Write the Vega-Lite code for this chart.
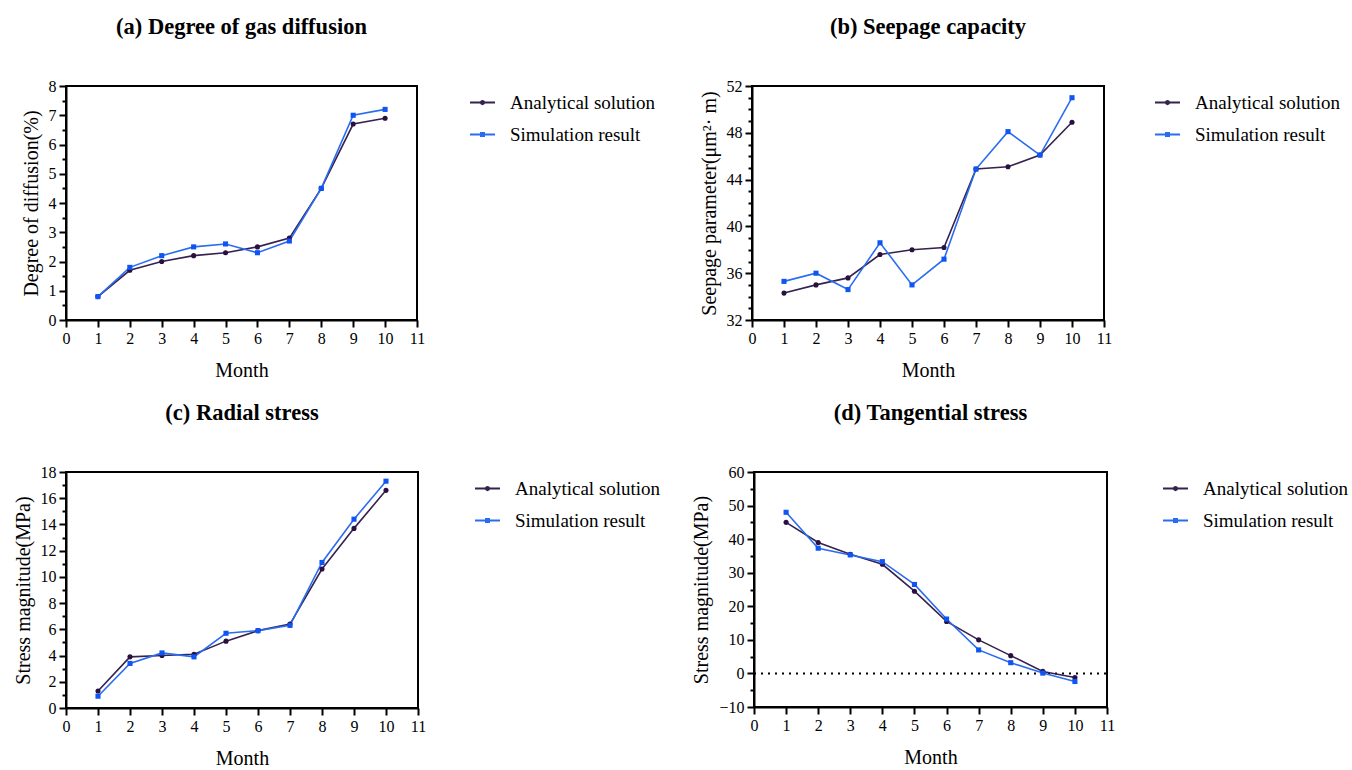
{
  "$schema": "https://vega.github.io/schema/vega-lite/v6.json",
  "padding": {"left": 12, "top": 14, "right": 5, "bottom": 5},
  "background": "white",
  "config": {
    "view": {"stroke": "black", "strokeWidth": 2},
    "font": "Liberation Serif",
    "axis": {
      "domainColor": "black", "domainWidth": 2, "tickColor": "black", "tickWidth": 2,
      "labelFont": "Liberation Serif", "labelFontSize": 16, "labelColor": "black",
      "titleFont": "Liberation Serif", "titleFontSize": 20, "titleFontWeight": "normal", "titleColor": "black",
      "grid": false, "labelOverlap": false, "labelFlush": false, "labelPadding": 3
    },
    "axisX": {"titlePadding": 14},
    "axisY": {"titlePadding": 7},
    "legend": {
      "labelFont": "Liberation Serif", "labelFontSize": 19, "labelColor": "black",
      "symbolSize": 625, "symbolStrokeWidth": 2, "rowPadding": 8, "labelOffset": 14,
      "orient": "right", "padding": 3,
      "symbolType": "M-1,0L1,0M-0.13,0A0.13,0.13 0 1,0 0.13,0A0.13,0.13 0 1,0 -0.13,0Z",
      "title": null
    },
    "title": {"font": "Liberation Serif", "fontSize": 22.5, "fontWeight": "bold", "color": "black", "anchor": "middle", "frame": "group"}
  },
  "datasets": {
    "a": [
      {"month": 1, "series": "Analytical solution", "value": 0.8},
      {"month": 2, "series": "Analytical solution", "value": 1.7},
      {"month": 3, "series": "Analytical solution", "value": 2.0},
      {"month": 4, "series": "Analytical solution", "value": 2.2},
      {"month": 5, "series": "Analytical solution", "value": 2.3},
      {"month": 6, "series": "Analytical solution", "value": 2.5},
      {"month": 7, "series": "Analytical solution", "value": 2.8},
      {"month": 8, "series": "Analytical solution", "value": 4.5},
      {"month": 9, "series": "Analytical solution", "value": 6.7},
      {"month": 10, "series": "Analytical solution", "value": 6.9},
      {"month": 1, "series": "Simulation result", "value": 0.8},
      {"month": 2, "series": "Simulation result", "value": 1.8},
      {"month": 3, "series": "Simulation result", "value": 2.2},
      {"month": 4, "series": "Simulation result", "value": 2.5},
      {"month": 5, "series": "Simulation result", "value": 2.6},
      {"month": 6, "series": "Simulation result", "value": 2.3},
      {"month": 7, "series": "Simulation result", "value": 2.7},
      {"month": 8, "series": "Simulation result", "value": 4.5},
      {"month": 9, "series": "Simulation result", "value": 7.0},
      {"month": 10, "series": "Simulation result", "value": 7.2}
    ],
    "b": [
      {"month": 1, "series": "Analytical solution", "value": 34.3},
      {"month": 2, "series": "Analytical solution", "value": 35.0},
      {"month": 3, "series": "Analytical solution", "value": 35.6},
      {"month": 4, "series": "Analytical solution", "value": 37.6},
      {"month": 5, "series": "Analytical solution", "value": 38.0},
      {"month": 6, "series": "Analytical solution", "value": 38.2},
      {"month": 7, "series": "Analytical solution", "value": 44.9},
      {"month": 8, "series": "Analytical solution", "value": 45.1},
      {"month": 9, "series": "Analytical solution", "value": 46.1},
      {"month": 10, "series": "Analytical solution", "value": 48.9},
      {"month": 1, "series": "Simulation result", "value": 35.3},
      {"month": 2, "series": "Simulation result", "value": 36.0},
      {"month": 3, "series": "Simulation result", "value": 34.6},
      {"month": 4, "series": "Simulation result", "value": 38.6},
      {"month": 5, "series": "Simulation result", "value": 35.0},
      {"month": 6, "series": "Simulation result", "value": 37.2},
      {"month": 7, "series": "Simulation result", "value": 44.9},
      {"month": 8, "series": "Simulation result", "value": 48.1},
      {"month": 9, "series": "Simulation result", "value": 46.1},
      {"month": 10, "series": "Simulation result", "value": 51.0}
    ],
    "c": [
      {"month": 1, "series": "Analytical solution", "value": 1.3},
      {"month": 2, "series": "Analytical solution", "value": 3.9},
      {"month": 3, "series": "Analytical solution", "value": 4.0},
      {"month": 4, "series": "Analytical solution", "value": 4.1},
      {"month": 5, "series": "Analytical solution", "value": 5.1},
      {"month": 6, "series": "Analytical solution", "value": 5.9},
      {"month": 7, "series": "Analytical solution", "value": 6.4},
      {"month": 8, "series": "Analytical solution", "value": 10.6},
      {"month": 9, "series": "Analytical solution", "value": 13.7},
      {"month": 10, "series": "Analytical solution", "value": 16.6},
      {"month": 1, "series": "Simulation result", "value": 0.9},
      {"month": 2, "series": "Simulation result", "value": 3.4},
      {"month": 3, "series": "Simulation result", "value": 4.2},
      {"month": 4, "series": "Simulation result", "value": 3.9},
      {"month": 5, "series": "Simulation result", "value": 5.7},
      {"month": 6, "series": "Simulation result", "value": 5.9},
      {"month": 7, "series": "Simulation result", "value": 6.3},
      {"month": 8, "series": "Simulation result", "value": 11.1},
      {"month": 9, "series": "Simulation result", "value": 14.4},
      {"month": 10, "series": "Simulation result", "value": 17.3}
    ],
    "d": [
      {"month": 1, "series": "Analytical solution", "value": 45.0},
      {"month": 2, "series": "Analytical solution", "value": 39.0},
      {"month": 3, "series": "Analytical solution", "value": 35.5},
      {"month": 4, "series": "Analytical solution", "value": 32.5},
      {"month": 5, "series": "Analytical solution", "value": 24.5},
      {"month": 6, "series": "Analytical solution", "value": 15.5},
      {"month": 7, "series": "Analytical solution", "value": 10.0},
      {"month": 8, "series": "Analytical solution", "value": 5.3},
      {"month": 9, "series": "Analytical solution", "value": 0.6},
      {"month": 10, "series": "Analytical solution", "value": -1.2},
      {"month": 1, "series": "Simulation result", "value": 48.0},
      {"month": 2, "series": "Simulation result", "value": 37.3},
      {"month": 3, "series": "Simulation result", "value": 35.3},
      {"month": 4, "series": "Simulation result", "value": 33.3},
      {"month": 5, "series": "Simulation result", "value": 26.5},
      {"month": 6, "series": "Simulation result", "value": 16.2},
      {"month": 7, "series": "Simulation result", "value": 7.0},
      {"month": 8, "series": "Simulation result", "value": 3.2},
      {"month": 9, "series": "Simulation result", "value": 0.1},
      {"month": 10, "series": "Simulation result", "value": -2.4}
    ],
    "zero": [{"value": 0}]
  },
  "resolve": {"scale": {"color": "independent", "shape": "independent"}, "legend": {"color": "independent", "shape": "independent"}},
  "vconcat": [
    {
      "resolve": {"scale": {"color": "independent", "shape": "independent"}, "legend": {"color": "independent", "shape": "independent"}},
      "hconcat": [
        {
          "title": {"text": "(a) Degree of gas diffusion", "offset": 40},
          "width": 351, "height": 234,
          "data": {"name": "a"},
          "encoding": {
            "x": {"field": "month", "type": "quantitative", "scale": {"domain": [0, 11], "nice": false},
                  "axis": {"values": [0,1,2,3,4,5,6,7,8,9,10,11], "title": "Month", "tickSize": 7}},
            "y": {"field": "value", "type": "quantitative", "scale": {"domain": [0, 8], "nice": false},
                  "axis": {"values": [0,0.5,1,1.5,2,2.5,3,3.5,4,4.5,5,5.5,6,6.5,7,7.5,8], "title": "Degree of diffusion(%)", "format": ".0f",
                           "labelExpr": "datum.value % 1 === 0 ? datum.label : ''",
                           "tickSize": {"condition": {"test": "datum.value % 1 === 0", "value": 7}, "value": 4}}}
          },
          "resolve": {"scale": {"color": "independent"}, "legend": {"color": "independent"}},
          "layer": [
            {
              "mark": {"type": "line", "strokeWidth": 1.6},
              "encoding": {
                "color": {"field": "series", "type": "nominal", "scale": {"domain": ["Analytical solution", "Simulation result"], "range": ["#35224f", "#2a6cf0"]},
                          "legend": {"offset": 49, "encode": {"symbols": {"update": {"shape": {"signal": "datum.value === 'Simulation result' ? 'M-1,0L1,0M-0.12,-0.12h0.24v0.24h-0.24Z' : 'M-1,0L1,0M-0.13,0A0.13,0.13 0 1,0 0.13,0A0.13,0.13 0 1,0 -0.13,0Z'"}}}}}}
              }
            },
            {
              "mark": {"type": "point", "filled": true, "size": 26, "opacity": 1},
              "encoding": {
                "color": {"field": "series", "type": "nominal", "scale": {"domain": ["Analytical solution", "Simulation result"], "range": ["#2a1040", "#0f55f5"]}, "legend": null},
                "shape": {"field": "series", "type": "nominal", "scale": {"domain": ["Analytical solution", "Simulation result"], "range": ["circle", "square"]}, "legend": null}
              }
            }
          ]
        },
        {
          "title": {"text": "(b) Seepage capacity", "offset": 40},
          "width": 352, "height": 234,
          "data": {"name": "b"},
          "encoding": {
            "x": {"field": "month", "type": "quantitative", "scale": {"domain": [0, 11], "nice": false},
                  "axis": {"values": [0,1,2,3,4,5,6,7,8,9,10,11], "title": "Month", "tickSize": 7}},
            "y": {"field": "value", "type": "quantitative", "scale": {"domain": [32, 52], "nice": false, "zero": false},
                  "axis": {"values": [32,33,34,35,36,37,38,39,40,41,42,43,44,45,46,47,48,49,50,51,52], "title": "Seepage parameter(μm²· m)",
                           "labelExpr": "datum.value % 4 === 0 ? datum.label : ''",
                           "tickSize": {"condition": {"test": "datum.value % 4 === 0", "value": 7}, "value": 4}}}
          },
          "resolve": {"scale": {"color": "independent"}, "legend": {"color": "independent"}},
          "layer": [
            {
              "mark": {"type": "line", "strokeWidth": 1.6},
              "encoding": {
                "color": {"field": "series", "type": "nominal", "scale": {"domain": ["Analytical solution", "Simulation result"], "range": ["#35224f", "#2a6cf0"]},
                          "legend": {"offset": 47, "encode": {"symbols": {"update": {"shape": {"signal": "datum.value === 'Simulation result' ? 'M-1,0L1,0M-0.12,-0.12h0.24v0.24h-0.24Z' : 'M-1,0L1,0M-0.13,0A0.13,0.13 0 1,0 0.13,0A0.13,0.13 0 1,0 -0.13,0Z'"}}}}}}
              }
            },
            {
              "mark": {"type": "point", "filled": true, "size": 26, "opacity": 1},
              "encoding": {
                "color": {"field": "series", "type": "nominal", "scale": {"domain": ["Analytical solution", "Simulation result"], "range": ["#2a1040", "#0f55f5"]}, "legend": null},
                "shape": {"field": "series", "type": "nominal", "scale": {"domain": ["Analytical solution", "Simulation result"], "range": ["circle", "square"]}, "legend": null}
              }
            }
          ]
        }
      ],
      "spacing": 38
    },
    {
      "resolve": {"scale": {"color": "independent", "shape": "independent"}, "legend": {"color": "independent", "shape": "independent"}},
      "hconcat": [
        {
          "title": {"text": "(c) Radial stress", "offset": 40},
          "width": 352, "height": 236,
          "data": {"name": "c"},
          "encoding": {
            "x": {"field": "month", "type": "quantitative", "scale": {"domain": [0, 11], "nice": false},
                  "axis": {"values": [0,1,2,3,4,5,6,7,8,9,10,11], "title": "Month", "tickSize": 7}},
            "y": {"field": "value", "type": "quantitative", "scale": {"domain": [0, 18], "nice": false},
                  "axis": {"values": [0,1,2,3,4,5,6,7,8,9,10,11,12,13,14,15,16,17,18], "title": "Stress magnitude(MPa)",
                           "labelExpr": "datum.value % 2 === 0 ? datum.label : ''",
                           "tickSize": {"condition": {"test": "datum.value % 2 === 0", "value": 7}, "value": 4}}}
          },
          "resolve": {"scale": {"color": "independent"}, "legend": {"color": "independent"}},
          "layer": [
            {
              "mark": {"type": "line", "strokeWidth": 1.6},
              "encoding": {
                "color": {"field": "series", "type": "nominal", "scale": {"domain": ["Analytical solution", "Simulation result"], "range": ["#35224f", "#2a6cf0"]},
                          "legend": {"offset": 53, "encode": {"symbols": {"update": {"shape": {"signal": "datum.value === 'Simulation result' ? 'M-1,0L1,0M-0.12,-0.12h0.24v0.24h-0.24Z' : 'M-1,0L1,0M-0.13,0A0.13,0.13 0 1,0 0.13,0A0.13,0.13 0 1,0 -0.13,0Z'"}}}}}}
              }
            },
            {
              "mark": {"type": "point", "filled": true, "size": 26, "opacity": 1},
              "encoding": {
                "color": {"field": "series", "type": "nominal", "scale": {"domain": ["Analytical solution", "Simulation result"], "range": ["#2a1040", "#0f55f5"]}, "legend": null},
                "shape": {"field": "series", "type": "nominal", "scale": {"domain": ["Analytical solution", "Simulation result"], "range": ["circle", "square"]}, "legend": null}
              }
            }
          ]
        },
        {
          "title": {"text": "(d) Tangential stress", "offset": 40},
          "width": 353, "height": 235,
          "data": {"name": "d"},
          "encoding": {
            "x": {"field": "month", "type": "quantitative", "scale": {"domain": [0, 11], "nice": false},
                  "axis": {"values": [0,1,2,3,4,5,6,7,8,9,10,11], "title": "Month", "tickSize": 7}},
            "y": {"field": "value", "type": "quantitative", "scale": {"domain": [-10, 60], "nice": false},
                  "axis": {"values": [-10,-5,0,5,10,15,20,25,30,35,40,45,50,55,60], "title": "Stress magnitude(MPa)",
                           "labelExpr": "datum.value % 10 === 0 ? datum.label : ''",
                           "tickSize": {"condition": {"test": "datum.value % 10 === 0", "value": 7}, "value": 4}}}
          },
          "resolve": {"scale": {"color": "independent"}, "legend": {"color": "independent"}},
          "layer": [
            {
              "data": {"name": "zero"},
              "mark": {"type": "rule", "strokeDash": [2, 5], "strokeWidth": 2, "color": "black"},
              "encoding": {"x": {"value": 0}, "x2": {"value": 353}}
            },
            {
              "mark": {"type": "line", "strokeWidth": 1.6},
              "encoding": {
                "color": {"field": "series", "type": "nominal", "scale": {"domain": ["Analytical solution", "Simulation result"], "range": ["#35224f", "#2a6cf0"]},
                          "legend": {"offset": 52, "encode": {"symbols": {"update": {"shape": {"signal": "datum.value === 'Simulation result' ? 'M-1,0L1,0M-0.12,-0.12h0.24v0.24h-0.24Z' : 'M-1,0L1,0M-0.13,0A0.13,0.13 0 1,0 0.13,0A0.13,0.13 0 1,0 -0.13,0Z'"}}}}}}
              }
            },
            {
              "mark": {"type": "point", "filled": true, "size": 26, "opacity": 1},
              "encoding": {
                "color": {"field": "series", "type": "nominal", "scale": {"domain": ["Analytical solution", "Simulation result"], "range": ["#2a1040", "#0f55f5"]}, "legend": null},
                "shape": {"field": "series", "type": "nominal", "scale": {"domain": ["Analytical solution", "Simulation result"], "range": ["circle", "square"]}, "legend": null}
              }
            }
          ]
        }
      ],
      "spacing": 25
    }
  ],
  "spacing": 19
}
